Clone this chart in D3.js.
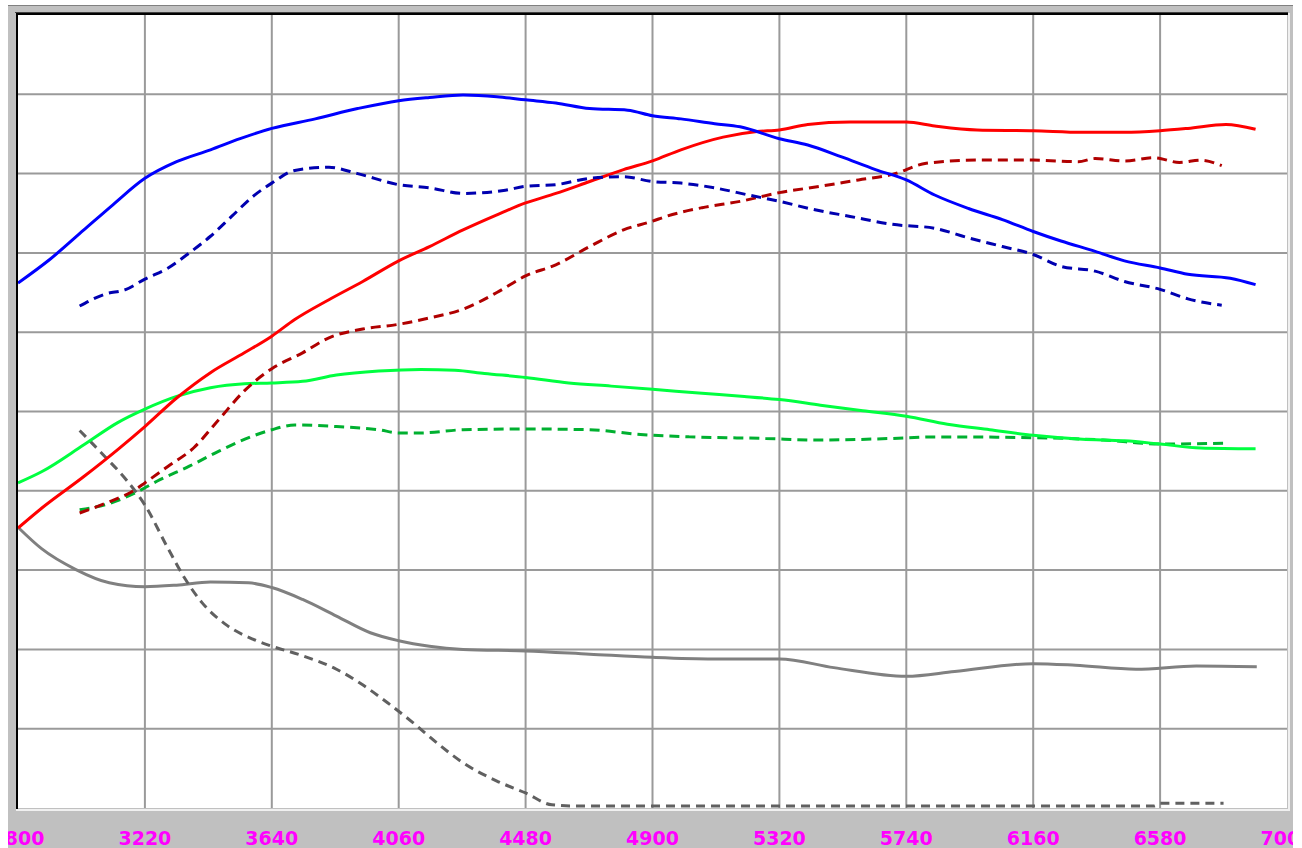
<!DOCTYPE html>
<html>
<head>
<meta charset="utf-8">
<script src="https://cdn.jsdelivr.net/npm/d3@7"></script>
<style>
  html, body { margin: 0; padding: 0; background: #fff; }
  svg { display: block; }
</style>
</head>
<body>
<svg id="chart" width="1302" height="848"></svg>
<script>
// x axis (rpm) ticks
const rpmTicks = [2800, 3220, 3640, 4060, 4480, 4900, 5320, 5740, 6160, 6580, 7000];
const yTicks = [10, 20, 30, 40, 50, 60, 70, 80, 90];

// series, [rpm, value] (value: 0..100 grid units)
const blueSolid = [[2800,66.2],[2906,69.2],[3018,72.9],[3115,76.1],[3220,79.4],[3325,81.5],[3437,83.0],[3535,84.4],[3640,85.7],[3784,86.9],[3924,88.2],[4060,89.2],[4162,89.6],[4273,89.9],[4385,89.7],[4480,89.3],[4580,88.9],[4692,88.2],[4818,88.0],[4900,87.3],[4994,86.9],[5106,86.3],[5190,85.9],[5320,84.4],[5414,83.6],[5526,82.1],[5638,80.5],[5740,79.2],[5834,77.3],[5946,75.6],[6058,74.2],[6160,72.7],[6252,71.5],[6365,70.2],[6462,69.0],[6580,68.1],[6672,67.3],[6812,66.8],[6896,66.0]];
const blueDash = [[3004,63.3],[3088,64.8],[3158,65.4],[3220,66.7],[3297,68.1],[3367,70.0],[3437,72.1],[3507,74.6],[3577,77.1],[3640,78.8],[3716,80.4],[3829,80.8],[3924,80.0],[4060,78.6],[4162,78.2],[4273,77.5],[4413,77.9],[4480,78.4],[4580,78.6],[4692,79.4],[4804,79.6],[4900,79.0],[4994,78.8],[5106,78.2],[5218,77.3],[5320,76.5],[5442,75.4],[5554,74.6],[5694,73.6],[5834,73.1],[5946,71.9],[6058,70.8],[6160,69.8],[6252,68.3],[6365,67.7],[6462,66.4],[6580,65.4],[6672,64.2],[6784,63.4]];
const redSolid = [[2800,35.3],[2878,37.8],[3018,41.8],[3130,45.2],[3220,48.1],[3325,51.7],[3437,54.9],[3549,57.4],[3640,59.5],[3716,61.6],[3829,64.1],[3941,66.4],[4060,69.0],[4162,70.8],[4273,72.9],[4385,74.8],[4480,76.3],[4580,77.5],[4692,79.0],[4804,80.5],[4900,81.6],[4994,83.0],[5134,84.6],[5246,85.3],[5320,85.5],[5414,86.2],[5554,86.5],[5740,86.5],[5834,86.0],[5974,85.5],[6160,85.4],[6323,85.2],[6462,85.2],[6580,85.4],[6672,85.7],[6798,86.2],[6896,85.6]];
const redDash = [[3004,37.2],[3088,38.4],[3186,40.1],[3220,41.0],[3297,43.1],[3381,45.4],[3465,49.0],[3549,52.6],[3640,55.4],[3742,57.4],[3829,59.3],[3941,60.4],[4060,61.0],[4162,61.8],[4273,62.9],[4385,65.0],[4480,67.1],[4580,68.5],[4692,70.8],[4804,72.9],[4900,74.0],[4945,74.6],[5064,75.7],[5190,76.5],[5320,77.6],[5456,78.4],[5582,79.2],[5694,79.9],[5806,81.3],[5974,81.7],[6160,81.7],[6309,81.5],[6365,81.9],[6462,81.6],[6561,82.0],[6644,81.4],[6714,81.7],[6784,81.0]];
const greenSolid = [[2800,41.0],[2878,42.4],[3018,45.8],[3130,48.6],[3220,50.3],[3325,51.9],[3437,53.0],[3549,53.5],[3640,53.6],[3742,53.8],[3854,54.6],[3994,55.1],[4134,55.3],[4246,55.2],[4344,54.8],[4480,54.3],[4623,53.6],[4763,53.2],[4900,52.8],[5064,52.3],[5204,51.9],[5320,51.5],[5456,50.8],[5596,50.1],[5740,49.4],[5876,48.4],[6016,47.7],[6160,47.0],[6323,46.5],[6462,46.3],[6580,45.9],[6714,45.4],[6896,45.3]];
const greenDash = [[3004,37.6],[3102,38.4],[3186,39.7],[3270,41.4],[3367,43.1],[3465,45.0],[3577,46.9],[3640,47.7],[3716,48.3],[3854,48.1],[3994,47.7],[4060,47.3],[4134,47.3],[4273,47.7],[4480,47.8],[4692,47.7],[4860,47.1],[5022,46.8],[5274,46.6],[5442,46.4],[5694,46.6],[5834,46.8],[6160,46.7],[6393,46.4],[6580,45.9],[6790,46.0]];
const graySolid = [[2800,35.4],[2878,32.7],[2990,30.1],[3102,28.4],[3220,27.9],[3325,28.1],[3437,28.5],[3563,28.4],[3640,27.8],[3742,26.3],[3854,24.2],[3966,22.1],[4060,21.1],[4162,20.4],[4273,20.0],[4480,19.8],[4692,19.4],[4900,19.0],[5100,18.8],[5320,18.8],[5500,17.7],[5740,16.6],[5900,17.2],[6160,18.2],[6300,18.0],[6500,17.5],[6700,17.9],[6900,17.8]];
const grayDash = [[3004,47.6],[3088,44.3],[3158,41.4],[3220,38.2],[3297,32.7],[3353,28.9],[3409,25.9],[3493,23.0],[3577,21.3],[3640,20.4],[3742,19.2],[3854,17.5],[3938,15.6],[4022,13.3],[4106,10.8],[4190,8.1],[4273,5.7],[4385,3.4],[4480,1.9],[4567,0.4],[4650,0.25],[6560,0.25],[6580,0.6],[6790,0.6]];

const svg = d3.select('#chart');
const plotL = 18, plotR = 1287, plotT = 15, plotB = 808;

const x = d3.scaleLinear().domain([2800, 7000]).range([plotL, plotR]);
const y = d3.scaleLinear().domain([0, 100]).range([plotB, plotT]);

// window panel
svg.append('rect').attr('x', 8).attr('y', 5).attr('width', 1285).attr('height', 843).attr('fill', '#c0c0c0');
svg.append('line').attr('x1', 8).attr('x2', 1293).attr('y1', 5.5).attr('y2', 5.5).attr('stroke', '#808080');
svg.append('rect').attr('x', plotL).attr('y', plotT).attr('width', plotR - plotL).attr('height', plotB - plotT).attr('fill', '#fff');
// sunken border
svg.append('path').attr('d', `M${plotL - 2},${plotB + 2}H${plotR + 2}V${plotT - 2}`).attr('fill', 'none').attr('stroke', '#f0f0f0').attr('stroke-width', 2);
svg.append('path').attr('d', `M${plotL - 1},${plotB + 1}V${plotT - 1}H${plotR + 1}`).attr('fill', 'none').attr('stroke', '#000').attr('stroke-width', 2);
svg.append('line').attr('x1', plotL - 3).attr('x2', plotR + 1).attr('y1', plotT - 2.5).attr('y2', plotT - 2.5).attr('stroke', '#404040');

svg.append('clipPath').attr('id', 'plot')
  .append('rect').attr('x', plotL).attr('y', plotT).attr('width', plotR - plotL).attr('height', plotB - plotT);

// grid
const grid = svg.append('g').attr('stroke', '#9a9a9a').attr('stroke-width', 2);
grid.selectAll('.vx').data(rpmTicks.slice(1, -1)).enter().append('line')
  .attr('x1', d => x(d)).attr('x2', d => x(d)).attr('y1', plotT).attr('y2', plotB);
grid.selectAll('.hy').data(yTicks).enter().append('line')
  .attr('x1', plotL).attr('x2', plotR).attr('y1', d => y(d)).attr('y2', d => y(d));

// x labels (end labels are cut by the panel edge, as in the source)
svg.append('clipPath').attr('id', 'panel')
  .append('rect').attr('x', 8).attr('y', 5).attr('width', 1285).attr('height', 843);
svg.append('g').attr('clip-path', 'url(#panel)')
  .selectAll('text').data(rpmTicks).enter().append('text')
  .attr('x', d => x(d)).attr('y', 845)
  .attr('text-anchor', 'middle')
  .attr('font-family', 'DejaVu Sans, sans-serif').attr('font-weight', 'bold').attr('font-size', 19)
  .attr('fill', '#ff00ff')
  .text(d => d);

const line = d3.line().curve(d3.curveMonotoneX).x(d => x(d[0])).y(d => y(d[1]));

const series = [
  { data: graySolid, color: '#808080', dash: null },
  { data: grayDash, color: '#606060', dash: '9,6' },
  { data: greenDash, color: '#00b030', dash: '10,6' },
  { data: greenSolid, color: '#00ff40', dash: null },
  { data: redDash, color: '#b00000', dash: '10,6' },
  { data: redSolid, color: '#ff0000', dash: null },
  { data: blueDash, color: '#0000b0', dash: '10,6' },
  { data: blueSolid, color: '#0000ff', dash: null }
];

const lines = svg.append('g').attr('clip-path', 'url(#plot)');
lines.selectAll('path').data(series).enter().append('path')
  .attr('d', d => line(d.data))
  .attr('fill', 'none')
  .attr('stroke', d => d.color)
  .attr('stroke-width', 3)
  .attr('stroke-dasharray', d => d.dash);
</script>
</body>
</html>
